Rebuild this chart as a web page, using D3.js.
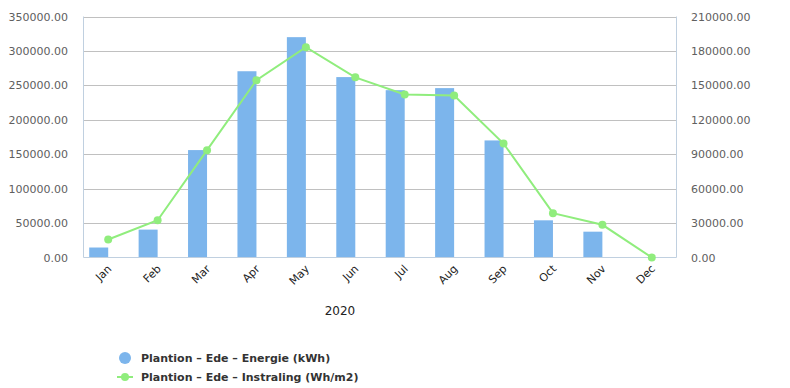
<!DOCTYPE html>
<html>
<head>
<meta charset="utf-8">
<script src="https://cdn.jsdelivr.net/npm/d3@7"></script>
<style>
  body { margin: 0; background: #fff; }
  text { font-family: "DejaVu Sans", sans-serif; }
</style>
</head>
<body>
<svg width="790" height="388"></svg>
<script>
let months = ['Jan', 'Feb', 'Mar', 'Apr', 'May', 'Jun', 'Jul', 'Aug', 'Sep', 'Oct', 'Nov', 'Dec'];
let energie = [14500, 40500, 156000, 270500, 320000, 262000, 243000, 246000, 170000, 54000, 37500, 0];
let instraling = [15700, 32500, 93500, 154500, 183300, 157000, 142000, 141200, 99300, 38600, 28500, 0];
let leftTicks = [0, 50000, 100000, 150000, 200000, 250000, 300000, 350000];
let rightTicks = [0, 30000, 60000, 90000, 120000, 150000, 180000, 210000];
let seriesNames = ['Plantion – Ede – Energie (kWh)', 'Plantion – Ede – Instraling (Wh/m2)'];

let svg = d3.select('svg');
let pLeft = 83.5, pRight = 676.5, pTop = 16.5, pBottom = 257.5;

let x = d3.scaleBand().domain(months).range([pLeft, pRight]);
let yL = d3.scaleLinear().domain([0, 350000]).range([pBottom, pTop]);
let yR = d3.scaleLinear().domain([0, 210000]).range([pBottom, pTop]);

// grid
svg.append('g').selectAll('line').data(leftTicks.slice(1)).enter().append('line')
    .attr('x1', pLeft).attr('x2', pRight)
    .attr('y1', d => Math.round(yL(d)) + 0.5).attr('y2', d => Math.round(yL(d)) + 0.5)
    .attr('stroke', '#c0c0c0');

// bars: left half of the band
let barW = 19;
svg.append('g').selectAll('rect').data(energie).enter().append('rect')
    .attr('x', (d, i) => x(months[i]) + x.bandwidth() / 2 - barW)
    .attr('width', barW)
    .attr('y', d => yL(d))
    .attr('height', d => pBottom - yL(d))
    .attr('fill', '#7cb5ec');

// axis lines
let axisColor = '#c0d0e0';
svg.append('line').attr('x1', pLeft).attr('x2', pLeft).attr('y1', pTop).attr('y2', pBottom).attr('stroke', axisColor);
svg.append('line').attr('x1', pRight).attr('x2', pRight).attr('y1', pTop).attr('y2', pBottom).attr('stroke', axisColor);
svg.append('line').attr('x1', pLeft).attr('x2', pRight).attr('y1', pBottom).attr('y2', pBottom).attr('stroke', axisColor);

// line series
let line = d3.line()
    .x((d, i) => x(months[i]) + x.bandwidth() / 2)
    .y(d => yR(d));
svg.append('path').datum(instraling)
    .attr('d', line)
    .attr('fill', 'none')
    .attr('stroke', '#90ed7d')
    .attr('stroke-width', 2);
svg.append('g').selectAll('circle').data(instraling).enter().append('circle')
    .attr('cx', (d, i) => x(months[i]) + x.bandwidth() / 2)
    .attr('cy', d => yR(d))
    .attr('r', 4)
    .attr('fill', '#90ed7d');

// left tick labels
svg.append('g').selectAll('text').data(leftTicks).enter().append('text')
    .attr('x', 68).attr('y', d => yL(d) + 4)
    .attr('text-anchor', 'end')
    .attr('font-size', 11)
    .attr('fill', '#606060')
    .text(d => d.toFixed(2));

// right tick labels
svg.append('g').selectAll('text').data(rightTicks).enter().append('text')
    .attr('x', 691).attr('y', d => yR(d) + 4)
    .attr('font-size', 11)
    .attr('fill', '#606060')
    .text(d => d.toFixed(2));

// x labels rotated
svg.append('g').selectAll('text').data(months).enter().append('text')
    .attr('transform', d => `translate(${x(d) + x.bandwidth() / 2 + 4},${pBottom + 12}) rotate(-45)`)
    .attr('text-anchor', 'end')
    .attr('font-size', 11)
    .attr('fill', '#222')
    .text(d => d);

// x title
svg.append('text')
    .attr('x', 340).attr('y', 315)
    .attr('text-anchor', 'middle')
    .attr('font-size', 12)
    .attr('fill', '#222')
    .text('2020');

// legend
let lg = svg.append('g');
lg.append('circle').attr('cx', 125).attr('cy', 358).attr('r', 6).attr('fill', '#7cb5ec');
lg.append('line').attr('x1', 117).attr('x2', 133).attr('y1', 377).attr('y2', 377)
    .attr('stroke', '#90ed7d').attr('stroke-width', 2);
lg.append('circle').attr('cx', 125).attr('cy', 377).attr('r', 4).attr('fill', '#90ed7d');
lg.selectAll('text').data(seriesNames).enter().append('text')
    .attr('x', 141).attr('y', (d, i) => 362 + i * 19)
    .attr('font-size', 11)
    .attr('font-weight', 'bold')
    .attr('fill', '#333')
    .text(d => d);
</script>
</body>
</html>
